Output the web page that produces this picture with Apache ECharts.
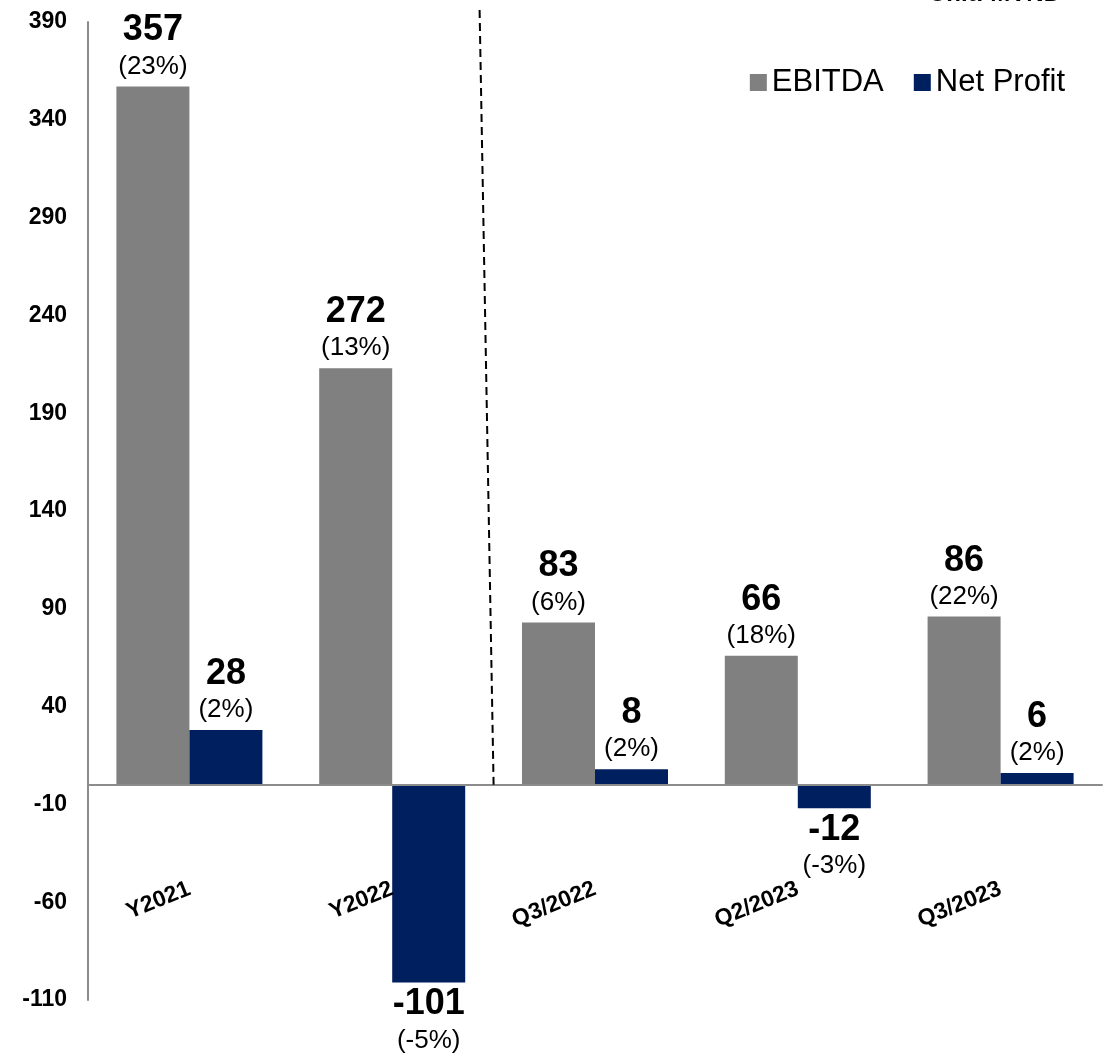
<!DOCTYPE html>
<html>
<head>
<meta charset="utf-8">
<script src="https://cdn.jsdelivr.net/npm/echarts@6/dist/echarts.min.js"></script>
<style>
html,body{margin:0;padding:0;background:#fff;}
#chart{width:1112px;height:1060px;}
</style>
</head>
<body>
<div id="chart"></div>
<script>
const categories = ['Y2021', 'Y2022', 'Q3/2022', 'Q2/2023', 'Q3/2023'];
const ebitda = [357, 213, 83, 66, 86];
const netProfit = [28, -101, 8, -12, 6];
const ebitdaText = ['357', '272', '83', '66', '86'];
const ebitdaPct = ['(23%)', '(13%)', '(6%)', '(18%)', '(22%)'];
const netText = ['28', '-101', '8', '-12', '6'];
const netPct = ['(2%)', '(-5%)', '(2%)', '(-3%)', '(2%)'];
const yMin = -110, yMax = 390, yStep = 50;

const FONT = '"Liberation Sans", Arial, sans-serif';
const chart = echarts.init(document.getElementById('chart'), null, {renderer: 'canvas'});

const rich = {
  v: {fontSize: 36, fontWeight: 'bold', lineHeight: 42, color: '#000', fontFamily: FONT},
  p: {fontSize: 26, lineHeight: 30, color: '#000', fontFamily: FONT}
};

function items(vals, texts, pcts) {
  return vals.map((v, i) => ({
    value: v,
    label: {
      show: true,
      position: v < 0 ? 'bottom' : 'top',
      distance: v < 0 ? 1 : 5,
      formatter: '{v|' + texts[i] + '}\n{p|' + pcts[i] + '}',
      rich: rich
    }
  }));
}

chart.setOption({
  animation: false,
  backgroundColor: '#fff',
  textStyle: {fontFamily: FONT},
  title: {
    text: 'Unit: MVND',
    right: 46,
    top: -23,
    textStyle: {fontSize: 24, fontWeight: 'bold', color: '#000', fontFamily: FONT}
  },
  legend: {
    data: ['EBITDA', 'Net Profit'],
    right: 42,
    top: 62,
    icon: 'rect',
    itemWidth: 17,
    itemHeight: 17,
    itemGap: 30,
    textStyle: {fontSize: 31, color: '#000', fontFamily: FONT}
  },
  grid: {left: 88, right: 10, top: 22, bottom: 60, containLabel: false, outerBoundsMode: 'none'},
  xAxis: {
    type: 'category',
    data: categories,
    axisLine: {show: true, onZero: true, lineStyle: {color: '#8c8c8c', width: 2}},
    axisTick: {show: false},
    axisLabel: {
      rotate: 22,
      margin: -112,
      fontSize: 23,
      fontWeight: 'bold',
      color: '#000',
      fontFamily: FONT,
      interval: 0
    },
    z: 10
  },
  yAxis: {
    type: 'value',
    min: yMin,
    max: yMax,
    interval: yStep,
    splitLine: {show: false},
    axisLine: {show: true, lineStyle: {color: '#8c8c8c', width: 2}},
    axisTick: {show: false},
    axisLabel: {fontSize: 23, fontWeight: 'bold', color: '#000', margin: 21, fontFamily: FONT}
  },
  series: [
    {
      name: 'EBITDA',
      type: 'bar',
      data: items(ebitda, ebitdaText, ebitdaPct),
      itemStyle: {color: '#808080'},
      barGap: '0%',
      barCategoryGap: '28%'
    },
    {
      name: 'Net Profit',
      type: 'bar',
      data: items(netProfit, netText, netPct),
      itemStyle: {color: '#001F5F'},
      barGap: '0%',
      barCategoryGap: '28%'
    }
  ]
});

// dashed separator between annual and quarterly groups
const x1 = chart.convertToPixel({xAxisIndex: 0}, 1);
const x2 = chart.convertToPixel({xAxisIndex: 0}, 2);
const xb = (x1 + x2) / 2;
const y0 = chart.convertToPixel({yAxisIndex: 0}, 0);
chart.setOption({
  graphic: [{
    type: 'line',
    shape: {x1: xb - 14, y1: 10, x2: xb, y2: y0},
    style: {stroke: '#000', lineWidth: 2, lineDash: [8, 5]},
    z: 100
  }]
});
</script>
</body>
</html>
